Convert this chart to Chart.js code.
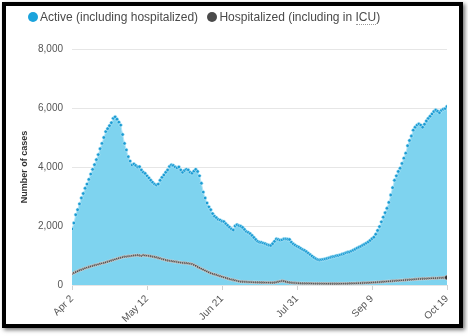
<!DOCTYPE html>
<html>
<head>
<meta charset="utf-8">
<script src="https://cdn.jsdelivr.net/npm/chart.js@4"></script>
<style>
  html, body { margin: 0; padding: 0; background: #fff; }
  #wrap { position: relative; width: 468px; height: 336px; overflow: hidden; }
  #chart { position: absolute; left: 0; top: 0; }
  #frame {
    position: absolute; left: 2px; top: 2px; width: 461px; height: 326px;
    box-sizing: border-box; border: 4px solid #000;
    box-shadow: 2px 2px 4px rgba(0,0,0,0.55); pointer-events: none;
  }
  #legend {
    position: absolute; left: 28px; top: 10px; font: 12px "Liberation Sans", Arial, sans-serif;
    color: #4a4a4a; white-space: nowrap;
  }
  #legend span.item { margin-right: 6px; }
  #legend i {
    display: inline-block; width: 10px; height: 10px; border-radius: 50%;
    vertical-align: -1px; margin-right: 2px;
  }
  abbr { text-decoration: none; border-bottom: 1px dotted #999; }
</style>
</head>
<body>
<div id="wrap">
  <canvas id="chart" width="468" height="336"></canvas>
  <div id="legend">
    <span class="item"><i style="background:#1ba3dc"></i>Active (including hospitalized)</span>
    <span class="item"><i style="background:#4a4a4a"></i>Hospitalized (including in <abbr title="Intensive care unit">ICU</abbr>)</span>
  </div>
  <div id="frame"></div>
</div>
<script>
// x ticks every 40 days, Apr 2 .. Oct 19 (day 0 .. 200)
const tickLabels = ["Apr 2", "May 12", "Jun 21", "Jul 31", "Sep 9", "Oct 19"];

// daily active cases (including hospitalized)
const active = [
  1900, 2100, 2380, 2550, 2750, 2950, 3100, 3280, 3420, 3580,
  3760, 3920, 4080, 4250, 4420, 4620, 4800, 5000, 5200, 5300,
  5400, 5500, 5650, 5700, 5620, 5520, 5420, 5100, 4800, 4580,
  4350, 4200, 4070, 4100, 4050, 4000, 4010, 3900, 3820, 3780,
  3700, 3630, 3550, 3480, 3420, 3390, 3420, 3550, 3650, 3730,
  3820, 3900, 4020, 4070, 4050, 4000, 3970, 4000, 3900, 3820,
  3880, 3920, 3900, 3820, 3790, 3860, 3920, 3850, 3700, 3450,
  3150, 2950, 2780, 2650, 2550, 2420, 2330, 2280, 2220, 2200,
  2160, 2150, 2080, 2020, 1960, 1900, 1865, 2000, 2040, 2010,
  1990, 1950, 1880, 1810, 1780, 1740, 1680, 1610, 1540, 1480,
  1450, 1440, 1420, 1400, 1370, 1350, 1340, 1400, 1480, 1560,
  1540, 1520, 1530, 1560, 1560, 1550, 1540, 1450, 1390, 1350,
  1310, 1280, 1240, 1200, 1170, 1130, 1080, 1030, 980, 930,
  890, 860, 850, 860, 870, 880, 900, 920, 940, 960,
  970, 990, 1000, 1020, 1040, 1060, 1090, 1110, 1120, 1150,
  1180, 1210, 1250, 1280, 1310, 1350, 1380, 1420, 1460, 1510,
  1570, 1620, 1720, 1850, 1980, 2140, 2300, 2450, 2600, 2800,
  3050, 3300, 3550, 3700, 3850, 3960, 4120, 4300, 4470, 4720,
  4900, 5050, 5250, 5350, 5420, 5460, 5420, 5350, 5450, 5560,
  5650, 5720, 5800, 5880, 5930, 5890, 5840, 5920, 5960, 5980,
  6050
];

// daily hospitalized (including in ICU)
const hospitalized = [
  380, 410, 440, 470, 500, 520, 545, 570, 590, 610,
  630, 650, 670, 685, 700, 720, 735, 750, 770, 790,
  810, 830, 850, 870, 890, 910, 925, 945, 960, 965,
  975, 980, 990, 1000, 1005, 1010, 1000, 990, 1010, 1000,
  995, 985, 975, 960, 950, 935, 915, 900, 880, 865,
  845, 830, 820, 810, 800, 790, 780, 770, 760, 750,
  745, 740, 730, 720, 710, 680, 650, 610, 580, 550,
  520, 490, 460, 430, 400, 380, 360, 340, 320, 300,
  280, 260, 240, 220, 200, 185, 170, 155, 140, 125,
  112, 110, 108, 105, 100, 98, 95, 92, 90, 88,
  86, 85, 84, 83, 82, 81, 80, 80, 85, 95,
  110, 125, 135, 130, 110, 95, 85, 78, 72, 68,
  64, 60, 57, 55, 54, 53, 52, 52, 51, 50,
  50, 49, 48, 48, 47, 47, 46, 46, 45, 45,
  45, 45, 46, 46, 47, 48, 49, 50, 52, 54,
  56, 58, 60, 62, 65, 68, 70, 73, 76, 80,
  84, 88, 92, 96, 100, 105, 110, 115, 120, 125,
  130, 135, 140, 145, 150, 155, 160, 165, 170, 175,
  180, 185, 190, 195, 200, 205, 208, 212, 215, 218,
  222, 225, 228, 230, 233, 236, 239, 242, 245, 248,
  252
];

const font = { family: "'Liberation Sans', Arial, sans-serif", size: 10 };
const lastIdx = hospitalized.length - 1;

new Chart(document.getElementById("chart"), {
  type: "line",
  data: {
    datasets: [{
      label: "Hospitalized (including in ICU)",
      data: hospitalized.map((v, i) => ({ x: i, y: v })),
      borderColor: "#e4e4e4",
      borderWidth: 1.5,
      pointRadius: ctx => ctx.dataIndex === lastIdx ? 2.5 : 1.4,
      pointBackgroundColor: ctx => ctx.dataIndex === lastIdx ? "#333" : "#4f4f4f",
      pointBorderColor: "#e0e0e0",
      pointBorderWidth: 0.6,
      fill: false,
      tension: 0
    }, {
      label: "Active (including hospitalized)",
      data: active.map((v, i) => ({ x: i, y: v })),
      borderColor: "#b8e6f7",
      borderWidth: 1,
      backgroundColor: "#7ed3ef",
      pointRadius: 1.7,
      pointBackgroundColor: "#1a9bd3",
      pointBorderColor: "#c9eefa",
      pointBorderWidth: 0.5,
      fill: "origin",
      tension: 0
    }]
  },
  options: {
    responsive: false,
    animation: false,
    layout: { padding: { left: 0, top: 49, right: 21, bottom: 0 } },
    plugins: {
      legend: { display: false },
      tooltip: { enabled: false }
    },
    scales: {
      x: {
        type: "linear",
        min: 0,
        max: 200,
        afterFit: s => { s.height = 51; },
        border: { display: false },
        grid: { drawOnChartArea: false, drawTicks: true, tickLength: 5, color: "#d0d0d0" },
        ticks: {
          stepSize: 40,
          maxRotation: 45,
          minRotation: 45,
          padding: 3,
          color: "#555",
          font: font,
          callback: v => tickLabels[v / 40]
        }
      },
      y: {
        min: 0,
        max: 8000,
        afterFit: s => { s.width = 72; },
        border: { display: false },
        grid: { color: "#e6e6e6", drawTicks: false },
        ticks: {
          stepSize: 2000,
          padding: 9,
          color: "#555",
          font: font,
          callback: v => v.toLocaleString("en-US")
        },
        title: {
          display: true,
          text: "Number of cases",
          color: "#333",
          font: { family: font.family, size: 9, weight: "bold" },
          padding: { top: 19, bottom: 0 }
        }
      }
    }
  }
});
</script>
</body>
</html>
